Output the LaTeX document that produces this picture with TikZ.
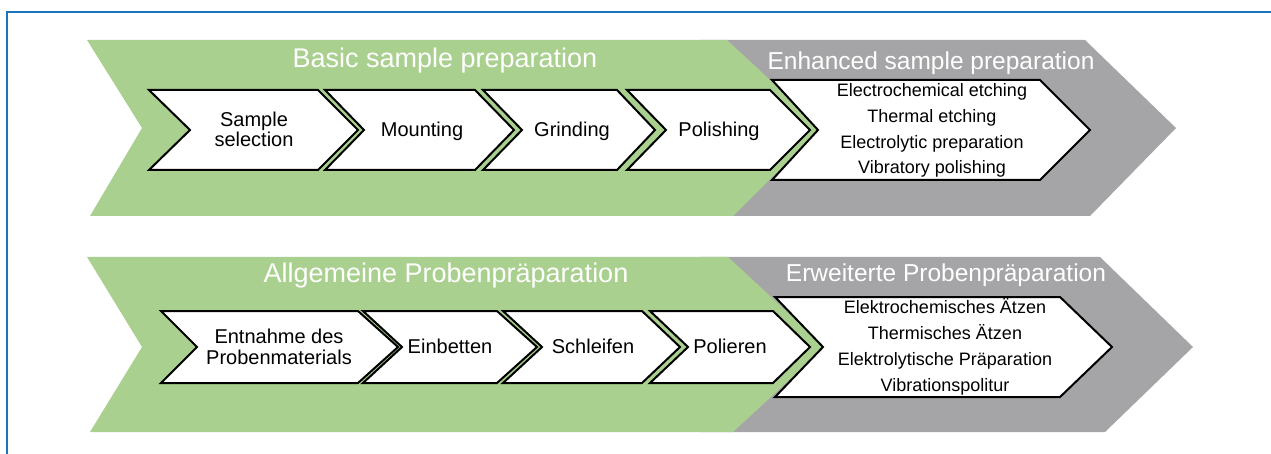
\documentclass[tikz,border=0pt]{standalone}
\usepackage{fontspec}
\setmainfont{Liberation Sans}
\definecolor{phgreen}{HTML}{A9D08E}
\definecolor{phgray}{HTML}{A5A5A7}
\definecolor{frameblue}{RGB}{28,117,188}
\tikzset{
  bigarrow/.style={fill=#1, draw=none},
  stepbox/.style={fill=white, draw=black, line width=2pt, line join=miter},
  maintitle/.style={text=white, font=\fontsize{27}{30}\selectfont, anchor=base, inner sep=0pt},
  subtitle/.style={text=white, font=\fontsize{24.5}{28}\selectfont, anchor=base, inner sep=0pt},
  steptext/.style={text=black, font=\fontsize{20}{20.5}\selectfont, align=center, anchor=base, inner sep=0pt},
  listtext/.style={text=black, font=\fontsize{18}{25.8}\selectfont, align=center, anchor=base, inner sep=0pt}
}
\begin{document}
\begin{tikzpicture}[x=1pt,y=-1pt]
\useasboundingbox (0,0) rectangle (1271,454);
% frame
\draw[frameblue, line width=2pt] (7,454) -- (7,12) -- (1271,12);

% ---------- top row ----------
\path[bigarrow=phgray] (700,40) -- (1085,40) -- (1176,128) -- (1090,216) -- (700,216) -- cycle;
\path[bigarrow=phgreen] (87,40) -- (727,40) -- (822,128) -- (733,216) -- (90,216) -- (142,128) -- cycle;
\draw[stepbox] (149,90) -- (318,90) -- (358,130) -- (318,170) -- (149,170) -- (190,130) -- cycle;
\draw[stepbox] (325,90) -- (475,90) -- (514,130) -- (475,170) -- (325,170) -- (364,130) -- cycle;
\draw[stepbox] (483,90) -- (617,90) -- (655,130) -- (617,170) -- (483,170) -- (522,130) -- cycle;
\draw[stepbox] (627,90) -- (770,90) -- (810,130) -- (770,170) -- (627,170) -- (666,130) -- cycle;
\draw[stepbox] (772,80) -- (1040,80) -- (1090,130) -- (1040,180) -- (772,180) -- (818,130) -- cycle;

\node[maintitle] (basic) at (445,68) {Basic sample preparation};
\node[subtitle] (enh) at (931,70) {Enhanced sample preparation};
\node[steptext] (s1) at (254,147) {Sample\\selection};
\node[steptext] (s2) at (422,137) {Mounting};
\node[steptext] (s3) at (572,137) {Grinding};
\node[steptext] (s4) at (719,137) {Polishing};
\node[listtext] (e1) at (932,174) {Electrochemical etching\\Thermal etching\\Electrolytic preparation\\Vibratory polishing};

% ---------- bottom row ----------
\path[bigarrow=phgray] (700,257) -- (1100,257) -- (1193,347) -- (1105,432) -- (700,432) -- cycle;
\path[bigarrow=phgreen] (87,257) -- (728,257) -- (825,347) -- (733,432) -- (90,432) -- (142,347) -- cycle;
\draw[stepbox] (161,311) -- (358,311) -- (398,347) -- (358,383) -- (161,383) -- (197,347) -- cycle;
\draw[stepbox] (363,311) -- (497,311) -- (537,347) -- (497,383) -- (363,383) -- (402,347) -- cycle;
\draw[stepbox] (503,311) -- (642,311) -- (680,347) -- (642,383) -- (503,383) -- (542,347) -- cycle;
\draw[stepbox] (650,311) -- (773,311) -- (810,347) -- (773,383) -- (650,383) -- (688,347) -- cycle;
\draw[stepbox] (775,297) -- (1060,297) -- (1112,347) -- (1060,397) -- (775,397) -- (823,347) -- cycle;

\node[maintitle] (allg) at (446,283) {Allgemeine Probenpräparation};
\node[subtitle] (erw) at (946,282) {Erweiterte Probenpräparation};
\node[steptext] (p1) at (279,364) {Entnahme des\\Probenmaterials};
\node[steptext] (p2) at (450,353) {Einbetten};
\node[steptext] (p3) at (593,353) {Schleifen};
\node[steptext] (p4) at (730,353) {Polieren};
\node[listtext] (f1) at (945,391) {Elektrochemisches Ätzen\\Thermisches Ätzen\\Elektrolytische Präparation\\Vibrationspolitur};
\end{tikzpicture}
\end{document}
